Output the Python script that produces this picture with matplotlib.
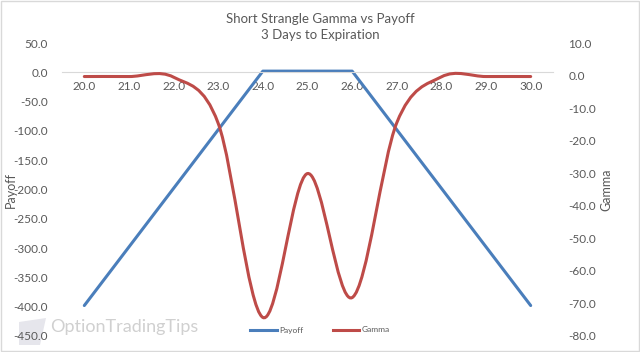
import matplotlib
matplotlib.use('Agg')
import matplotlib.pyplot as plt
from matplotlib.path import Path
from matplotlib.patches import PathPatch, Rectangle, Polygon
from matplotlib.lines import Line2D

plt.rcParams['font.family'] = ['Lato', 'DejaVu Sans']

# Underlying price at expiration
prices = [20, 21, 22, 23, 24, 25, 26, 27, 28, 29, 30]
# Short strangle payoff (24 / 26 strikes)
payoff = [-398, -298, -198, -98, 2, 2, 2, -98, -198, -298, -398]
# Position gamma, 3 days to expiration
gamma = [-0.3, -0.3, -0.5, -14.7, -74.3, -30.1, -68.2, -14.5, -0.4, -0.3, -0.3]

left_ticks = [50, 0, -50, -100, -150, -200, -250, -300, -350, -400, -450]
right_ticks = [10, 0, -10, -20, -30, -40, -50, -60, -70, -80]

blue = '#4a7ebb'
red = '#be4b48'
txt = '#595959'


def smooth_path(xs, ys):
    # Excel style smoothed line: cubic bezier through each point (Catmull-Rom tangents)
    n = len(xs)
    verts = [(xs[0], ys[0])]
    codes = [Path.MOVETO]
    for i in range(n - 1):
        x0, y0 = (xs[i - 1], ys[i - 1]) if i > 0 else (xs[i], ys[i])
        x3, y3 = (xs[i + 2], ys[i + 2]) if i + 2 < n else (xs[i + 1], ys[i + 1])
        c1 = (xs[i] + (xs[i + 1] - x0) / 6, ys[i] + (ys[i + 1] - y0) / 6)
        c2 = (xs[i + 1] - (x3 - xs[i]) / 6, ys[i + 1] - (y3 - ys[i]) / 6)
        verts += [c1, c2, (xs[i + 1], ys[i + 1])]
        codes += [Path.CURVE4] * 3
    return Path(verts, codes)


fig = plt.figure(figsize=(6.4, 3.52), dpi=100)

# watermark logo (behind everything)
fig.patches.append(Polygon([(19 / 640, 1 - 345 / 352), (19 / 640, 1 - 322 / 352),
                            (46 / 640, 1 - 318 / 352), (40 / 640, 1 - 345 / 352)],
                           closed=True, transform=fig.transFigure, zorder=-5,
                           facecolor='#e6e6ec', edgecolor='none'))

ax = fig.add_axes([62 / 640, 16 / 352, 491 / 640, 293 / 352])
ax.patch.set_alpha(0)
ax2 = ax.twinx()

ax.plot(prices, payoff, color=blue, lw=2.2, solid_capstyle='round')
ax.set_xlim(19.5, 30.5)
ax.set_ylim(-450, 50)
ax.set_yticks(left_ticks)
ax.set_yticklabels([f'{v:.1f}' for v in left_ticks])
ax.set_xticks(prices)
ax.set_xticklabels([f'{v:.1f}' for v in prices])
for s in ['top', 'left', 'right']:
    ax.spines[s].set_visible(False)
ax.spines['bottom'].set_position(('data', 0))
ax.spines['bottom'].set_color('#d9d9d9')
ax.tick_params(axis='both', length=0, labelsize=8.5, colors=txt)
ax.tick_params(axis='x', pad=6)
ax.tick_params(axis='y', pad=10)

ax2.add_patch(PathPatch(smooth_path(prices, gamma), facecolor='none',
                        edgecolor=red, lw=2.2, capstyle='round'))
ax2.set_ylim(-80, 10)
ax2.set_yticks(right_ticks)
ax2.set_yticklabels([f'{v:.1f}' for v in right_ticks])
for s in ax2.spines.values():
    s.set_visible(False)
ax2.tick_params(axis='y', length=0, labelsize=8.5, colors=txt, pad=11)

# axis titles
fig.text(11 / 640, 1 - 190 / 352, 'Payoff', rotation=90, ha='center', va='center',
         fontsize=9, color=txt)
fig.text(606 / 640, 1 - 190 / 352, 'Gamma', rotation=90, ha='center', va='center',
         fontsize=9, color=txt)

fig.text(0.5, 1 - 19 / 352, 'Short Strangle Gamma vs Payoff', ha='center', va='center',
         fontsize=9.5, color=txt)
fig.text(0.5, 1 - 35 / 352, '3 Days to Expiration', ha='center', va='center',
         fontsize=9.5, color=txt)

handles = [Line2D([], [], color=blue, lw=2.2), Line2D([], [], color=red, lw=2.2)]
fig.legend(handles, ['Payoff', 'Gamma'], loc='center', bbox_to_anchor=(0.5, 1 - 330 / 352),
           ncol=2, frameon=False, fontsize=6, labelcolor=txt, handlelength=3.2,
           columnspacing=3.5, handletextpad=0.3)

# watermark text
fig.text(50 / 640, 1 - 327 / 352, 'OptionTradingTips', ha='left', va='center',
         fontsize=13, color='#d0d0d0', zorder=-5)

fig.patches.append(Rectangle((0.001, 0.002), 0.997, 0.995, transform=fig.transFigure,
                             fill=False, edgecolor='#d9d9d9', lw=1))

fig.savefig('out.png', dpi=100)
